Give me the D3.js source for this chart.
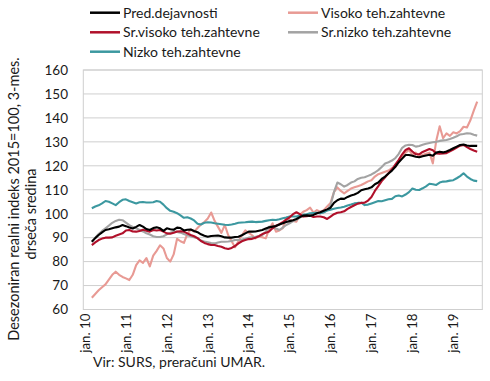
<!DOCTYPE html>
<html><head><meta charset="utf-8">
<script src="https://cdn.jsdelivr.net/npm/d3@7"></script>
<style>
html,body{margin:0;padding:0;background:#fff;}
svg{display:block;}
text{font-family:Lato,"Open Sans",sans-serif;fill:#1a1a1a;}
</style></head>
<body><svg id="c" width="490" height="381"></svg>
<script>
// ---- data (monthly, Jan 2010 – Sep 2019; 3-month moving average starts Mar 2010) ----
const startYear = 2010, nMonths = 117;
const categories = [];
for (let k = 0; k < nMonths; k++) categories.push((startYear + Math.floor(k / 12)) + "-" + String(k % 12 + 1).padStart(2, "0"));
const tickLabels = ["jan. 10","jan. 11","jan. 12","jan. 13","jan. 14","jan. 15","jan. 16","jan. 17","jan. 18","jan. 19"];
const yTicks = [60,70,80,90,100,110,120,130,140,150,160];

const predDejavnosti = [null,null,
 88.3,89.8,91.1,92.2,93.2,93.5,93.9,94.3,94.6,95.3,
 94.8,94.2,93.8,94.5,95.3,94.6,93.6,93.2,94.0,94.3,93.9,92.8,
 93.9,93.5,93.3,94.2,94.0,93.0,93.3,93.4,92.8,92.3,91.4,90.8,
 90.4,90.7,90.8,90.9,90.6,90.1,90.0,90.0,90.3,90.4,91.0,91.8,
 92.5,92.5,92.6,92.9,93.2,93.8,94.3,94.6,94.9,95.5,96.0,96.5,
 96.9,97.3,97.8,98.6,99.2,99.3,99.1,99.5,100.2,100.6,101.2,101.8,
 102.5,104.5,105.6,106.3,106.2,107.0,107.6,108.0,108.7,109.8,110.2,110.5,
 111.0,112.3,113.0,114.5,115.5,116.8,118.0,119.6,121.5,123.0,124.5,124.5,
 124.2,123.8,123.6,124.0,124.3,124.6,124.2,125.5,125.9,125.6,126.0,126.6,
 127.3,128.0,128.7,128.9,128.5,128.3,128.4,128.3];
const visoko = [null,null,
 64.9,66.5,68.0,69.3,70.5,72.5,74.5,75.8,74.5,73.6,
 73.0,72.3,74.5,78.5,80.5,79.5,81.5,78.0,82.5,84.5,86.8,85.5,
 81.5,80.0,83.0,89.5,88.5,87.8,91.5,93.5,92.5,94.0,95.5,96.5,
 98.0,100.5,97.0,94.5,92.0,95.3,91.0,88.5,86.0,88.5,91.0,93.0,
 92.0,91.0,89.7,90.5,90.2,89.7,93.5,96.0,92.5,93.0,94.0,98.3,
 97.5,97.0,96.7,99.5,100.8,101.5,102.5,100.5,101.5,100.8,101.5,103.0,
 104.5,109.0,111.0,109.5,108.5,109.5,110.5,111.0,111.5,112.0,112.7,113.5,
 114.0,115.5,116.5,117.0,117.5,118.0,119.0,119.5,121.5,124.0,125.5,126.6,
 124.5,125.5,124.0,124.5,125.0,125.5,121.0,130.5,136.5,131.5,133.5,132.5,
 134.0,133.5,134.5,136.3,136.0,139.0,143.0,146.8];
const srVisoko = [null,null,
 86.9,88.0,89.0,89.6,90.0,90.0,90.1,90.8,91.3,91.8,
 93.0,93.2,92.6,92.5,92.8,93.3,92.9,92.5,93.2,93.0,93.2,92.5,
 91.8,91.6,92.0,92.6,92.7,92.5,91.8,91.1,90.6,89.8,88.6,87.8,
 87.3,86.9,86.9,86.5,86.2,85.6,85.3,85.7,86.5,87.6,88.5,89.0,
 89.4,89.5,90.0,90.6,91.5,92.0,92.6,93.9,95.0,95.6,96.5,97.5,
 98.5,99.8,100.6,99.8,98.8,99.0,99.2,98.6,98.8,98.8,98.5,97.8,
 98.8,99.8,100.4,100.6,101.0,102.0,102.8,103.5,104.2,104.5,104.6,105.5,
 107.0,109.5,111.5,113.6,115.2,116.9,118.5,120.5,122.5,124.8,126.6,127.3,
 126.0,124.8,124.8,125.8,126.4,127.0,126.5,125.2,125.0,125.2,125.3,126.0,
 126.8,127.6,128.4,128.7,127.8,127.0,126.4,125.9];
const srNizko = [null,null,
 88.3,90.0,91.5,92.8,93.9,95.0,96.2,97.0,97.5,97.3,
 96.3,95.2,94.5,93.9,93.2,92.6,91.8,91.3,90.6,90.3,90.3,90.6,
 91.4,92.0,92.5,92.4,92.1,91.5,91.0,90.6,90.2,89.7,88.8,88.4,
 88.1,87.8,87.6,88.0,88.3,88.3,88.4,88.6,89.0,89.0,89.2,89.5,
 90.0,90.2,90.4,90.7,91.1,92.5,94.6,94.3,93.8,93.2,94.2,95.3,
 96.0,96.9,97.5,98.4,99.2,99.3,99.5,99.8,100.2,100.2,100.5,101.5,
 103.5,109.0,113.0,112.3,111.3,112.0,113.0,113.5,114.5,115.0,115.2,115.8,
 116.4,117.2,118.2,119.5,121.0,121.5,122.2,123.2,125.0,127.5,128.5,128.8,
 128.7,128.0,128.3,128.8,129.2,129.5,129.8,130.0,130.4,130.6,130.8,131.2,
 131.7,132.3,133.1,133.3,133.6,133.5,133.0,132.6];
const nizko = [null,null,
 102.3,103.0,103.5,104.3,105.3,105.0,104.3,103.6,104.8,105.8,
 106.0,105.3,104.8,104.3,104.8,104.9,104.7,104.7,104.8,105.3,105.0,103.8,
 102.3,101.2,100.8,100.2,99.3,98.3,98.5,98.0,97.2,95.8,95.5,96.2,
 96.4,96.3,96.0,95.8,95.6,95.4,95.3,95.5,95.8,96.2,96.3,96.4,
 96.6,96.7,96.5,96.6,96.7,97.0,97.3,97.5,97.4,97.7,98.1,98.4,
 98.8,98.8,98.8,99.2,99.5,99.8,100.2,100.3,100.4,100.2,100.6,101.3,
 101.7,102.1,102.4,102.6,102.9,103.4,103.8,104.3,104.5,104.6,103.6,103.8,
 104.3,104.8,105.3,105.2,105.6,106.0,106.2,107.3,107.6,107.2,108.0,109.0,
 110.5,110.0,109.9,110.6,111.4,112.5,112.3,112.0,113.0,113.4,113.5,113.8,
 114.0,114.8,115.7,116.9,115.5,114.5,113.8,113.6];

const seriesNames = ["Pred.dejavnosti","Visoko teh.zahtevne","Sr.visoko teh.zahtevne","Sr.nizko teh.zahtevne","Nizko teh.zahtevne"];
const seriesValues = [predDejavnosti, visoko, srVisoko, srNizko, nizko];
const seriesColors = ["#000000","#e89a94","#b0102a","#a3a3a3","#3c98a0"];
const yTitle = ["Desezoniran realni indeks 2015=100, 3-mes.","drseča sredina"];
const sourceText = "Vir: SURS, preračuni UMAR.";

// ---- layout ----
const svg = d3.select("#c");
const L = 83.3, R = 482.3, T = 70, B = 309.5;
const x = d3.scaleBand().domain(categories).range([L, R]);
const xc = c => x(c) + x.bandwidth() / 2;
const y = d3.scaleLinear().domain([60, 160]).range([B, T]);

// gridlines
svg.append("g").selectAll("line").data(yTicks).join("line")
  .attr("x1", L).attr("x2", R).attr("y1", d => y(d)).attr("y2", d => y(d))
  .attr("stroke", "#cfcfcf").attr("stroke-width", 1);
svg.append("rect").attr("x", L).attr("y", T).attr("width", R - L).attr("height", B - T)
  .attr("fill", "none").attr("stroke", "#cfcfcf").attr("stroke-width", 1);

// y axis labels
const yAxis = d3.axisLeft(y).tickValues(yTicks).tickSize(0).tickPadding(0);
const gy = svg.append("g").attr("transform", `translate(68,0)`).call(yAxis);
gy.select(".domain").remove();
gy.selectAll("text").attr("font-size", 13.5).attr("font-family", "Lato").attr("fill", "#1a1a1a");

// x labels
const tickCats = tickLabels.map((t, k) => categories[k * 12]);
const xAxis = d3.axisBottom(x).tickValues(tickCats).tickFormat((d, k) => tickLabels[k]).tickSize(0);
const gx = svg.append("g").attr("transform", `translate(0,${B})`).call(xAxis);
gx.select(".domain").remove();
gx.selectAll("text").attr("font-size", 13.3).attr("font-family", "Lato").attr("fill", "#1a1a1a")
  .attr("text-anchor", "end").attr("transform", "rotate(-90)")
  .attr("x", -4).attr("y", 0).attr("dy", "0.36em");

// y title
svg.append("text").attr("transform", "translate(19,199) rotate(-90)").attr("text-anchor", "middle")
  .attr("font-size", 14.5).text(yTitle[0]);
svg.append("text").attr("transform", "translate(36,214) rotate(-90)").attr("text-anchor", "middle")
  .attr("font-size", 14.5).text(yTitle[1]);

// lines
const line = d3.line().defined(d => d.v != null).x(d => xc(d.c)).y(d => y(d.v));
const drawOrder = [1, 3, 4, 2, 0];
drawOrder.forEach(s => {
  const pts = seriesValues[s].map((v, k) => ({ c: categories[k], v }));
  svg.append("path").datum(pts).attr("d", line).attr("fill", "none")
    .attr("stroke", seriesColors[s]).attr("stroke-width", 2.1).attr("stroke-linejoin", "round");
});

// legend
const legPos = [[90, 12.7], [288, 12.7], [90, 32.3], [288, 32.3], [90, 51.7]];
seriesNames.forEach((n, s) => {
  const [lx, ly] = legPos[s];
  svg.append("line").attr("x1", lx).attr("x2", lx + 30).attr("y1", ly).attr("y2", ly)
    .attr("stroke", seriesColors[s]).attr("stroke-width", 2.5);
  svg.append("text").attr("x", lx + 33).attr("y", ly).attr("dy", "0.36em")
    .attr("font-size", 14).text(n);
});

// source
svg.append("text").attr("x", 93).attr("y", 367).attr("font-size", 14).text(sourceText);
</script></body></html>
